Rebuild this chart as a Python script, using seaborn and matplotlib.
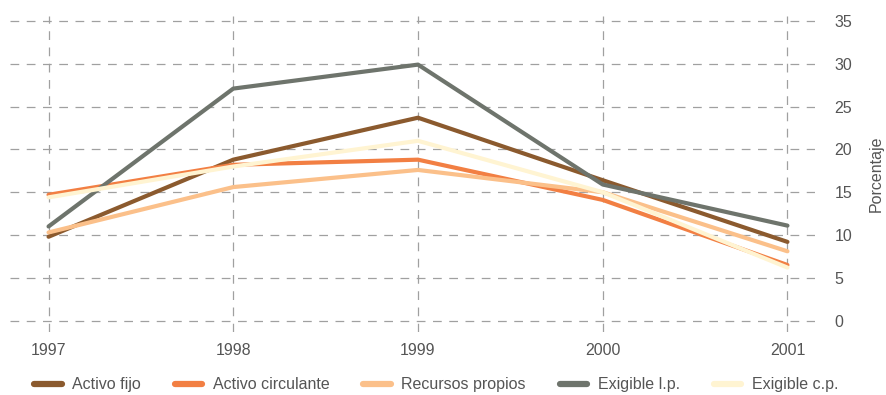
#line chart of balance-sheet growth rates, recreated with seaborn

import pandas as pd
import seaborn as sns
import matplotlib.pyplot as plt

#data
years = [1997, 1998, 1999, 2000, 2001]
activo_fijo = [9.8, 18.8, 23.7, 16.4, 9.2]
activo_circulante = [14.7, 18.2, 18.8, 14.1, 6.5]
recursos_propios = [10.3, 15.6, 17.6, 15.0, 8.1]
exigible_lp = [11.0, 27.1, 29.9, 15.9, 11.1]
exigible_cp = [14.4, 18.0, 21.0, 15.0, 6.2]

series = ['Activo fijo', 'Activo circulante', 'Recursos propios', 'Exigible l.p.', 'Exigible c.p.']
colors = ['#8b5a2e', '#f27f43', '#fbc08a', '#6e746c', '#fff4d2']

#build a long table for seaborn
values = [activo_fijo, activo_circulante, recursos_propios, exigible_lp, exigible_cp]
rows = []
for name, vals in zip(series, values):
    for y, v in zip(years, vals):
        rows.append({'Año': y, 'Serie': name, 'Valor': v})
data = pd.DataFrame(rows)

sns.set_style('white')
plt.rcParams['font.family'] = ['Liberation Sans', 'DejaVu Sans']

fig = plt.figure(figsize=(8.87, 3.95), dpi=100)
ax = fig.add_axes([0.011, 0.16, 0.908, 0.8])

sns.lineplot(data=data, x='Año', y='Valor', hue='Serie', hue_order=series,
             palette=colors, linewidth=3, ax=ax, legend=True)

ax.set_xlim(1996.79, 2001.15)
ax.set_ylim(-1.3, 35.6)
ax.set_xticks(years)
ax.set_xticklabels([str(y) for y in years])
ax.set_yticks(range(0, 36, 5))
ax.yaxis.tick_right()
ax.yaxis.set_label_position('right')
ax.set_xlabel('')
ax.set_ylabel('Porcentaje', fontsize=11.5, color='#555555', labelpad=12)
ax.tick_params(axis='both', labelsize=11.5, colors='#555555', length=0)
ax.tick_params(axis='x', pad=8)
ax.tick_params(axis='y', pad=14)

ax.grid(True, linestyle=(0, (7, 6)), color='#a0a0a0', linewidth=0.9)
ax.set_axisbelow(True)
for s in ax.spines.values():
    s.set_visible(False)

handles, labels = ax.get_legend_handles_labels()
ax.get_legend().remove()
leg = fig.legend(handles, labels, loc='lower left', bbox_to_anchor=(0.022, -0.03), ncol=5,
                 frameon=False, fontsize=11.5, handlelength=1.75, handletextpad=0.65,
                 columnspacing=2.1, labelcolor='#555555')
for line in leg.get_lines():
    line.set_linewidth(4.5)

fig.savefig('out.png', dpi=100)
